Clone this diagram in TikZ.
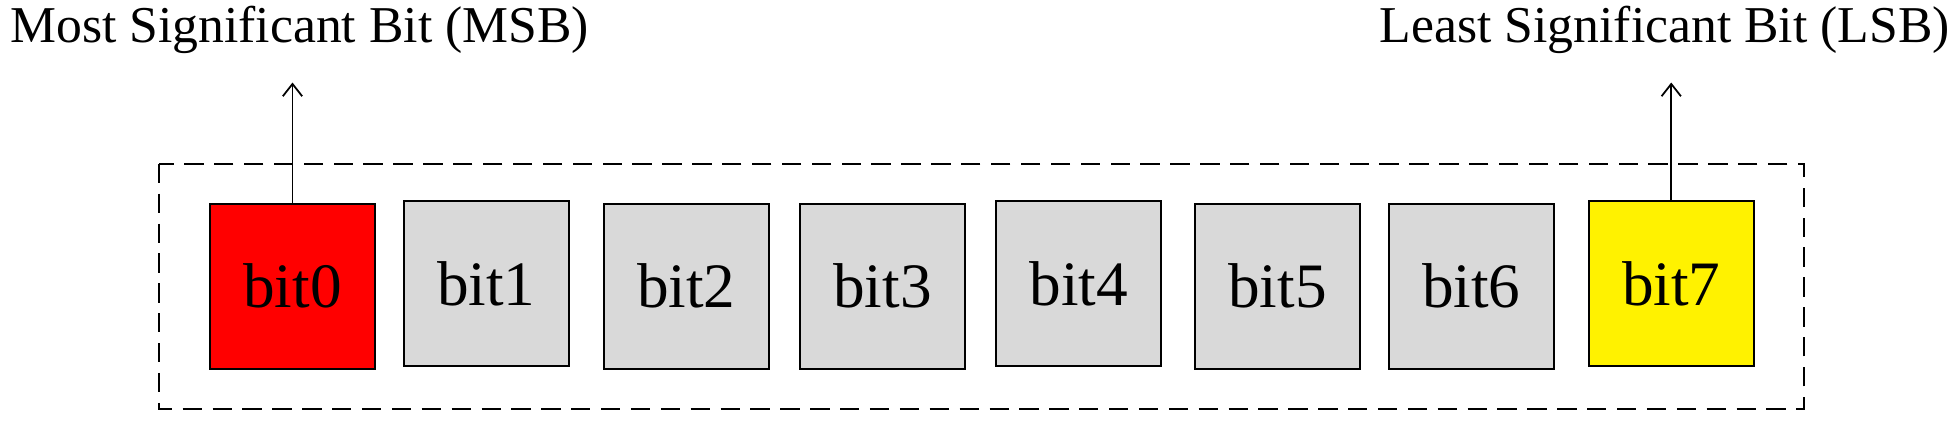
\documentclass[tikz,border=0pt]{standalone}
\usepackage{fontspec}
\setmainfont{Liberation Serif}
\usetikzlibrary{arrows.meta}
\begin{document}
\begin{tikzpicture}[x=0.025cm,y=-0.025cm,
  bitbox/.style={draw=black,line width=1pt,minimum width=3.3cm,minimum height=3.3cm,inner sep=0pt,font=\fontsize{36}{40}\selectfont},
  lbl/.style={font=\fontsize{29.4}{33}\selectfont,inner sep=0pt},
  arr/.style={-{Straight Barb[length=7pt,width=11pt]},line width=1pt}]
\useasboundingbox (0,0) rectangle (1568,338.4);
\draw[line width=1.1pt,dash pattern=on 11pt off 6pt] (127,131) rectangle (1443,327);
\node[bitbox,fill=red] (b0) at (234,229) {bit0};
\node[bitbox,fill=black!15] (b1) at (389,227) {bit1};
\node[bitbox,fill=black!15] (b2) at (549,229) {bit2};
\node[bitbox,fill=black!15] (b3) at (706,229) {bit3};
\node[bitbox,fill=black!15] (b4) at (863,227) {bit4};
\node[bitbox,fill=black!15] (b5) at (1022,229) {bit5};
\node[bitbox,fill=black!15] (b6) at (1177,229) {bit6};
\node[bitbox,fill=yellow] (b7) at (1337,227) {bit7};
\node[lbl,anchor=west] (msb) at (8,24) {Most Significant Bit (MSB)};
\node[lbl,anchor=east] (lsb) at (1560,24) {Least Significant Bit (LSB)};
\coordinate (m) at (234,66);
\coordinate (l) at (1337,66);
\draw[arr] (b0.north) -- (m);
\draw[arr] (b7.north) -- (l);
\end{tikzpicture}
\end{document}
